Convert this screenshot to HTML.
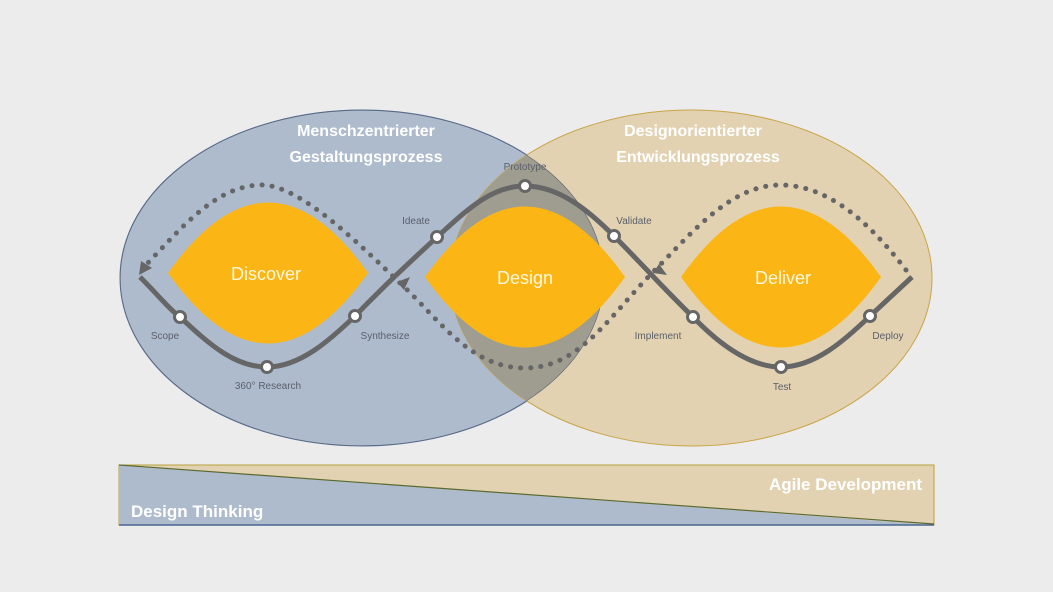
<!DOCTYPE html>
<html><head><meta charset="utf-8"><style>
html,body{margin:0;padding:0;background:#ececec;}
svg{display:block;}
</style></head><body>
<svg width="1053" height="592" viewBox="0 0 1053 592" xmlns="http://www.w3.org/2000/svg" font-family="Liberation Sans, sans-serif">
<defs>
<clipPath id="cl"><ellipse cx="362" cy="278" rx="242" ry="168"/></clipPath>
</defs>
<rect width="1053" height="592" fill="#ececec"/>
<ellipse cx="362" cy="278" rx="242" ry="168" fill="#aebbcd" stroke="#55719a" stroke-width="1"/>
<ellipse cx="691" cy="278" rx="241" ry="168" fill="#e2d2b2" stroke="#c9a448" stroke-width="1"/>
<ellipse cx="691" cy="278" rx="241" ry="168" fill="#9f9d8f" clip-path="url(#cl)"/>
<ellipse cx="362" cy="278" rx="242" ry="168" fill="none" stroke="#5e6678" stroke-width="1.2" clip-path="url(#cl)"/>
<!-- lenses -->
<path d="M168 273 Q268 132 368 273 Q268 414 168 273Z" fill="#fbb616"/>
<path d="M425 277 Q525 136 625 277 Q525 418 425 277Z" fill="#fbb616"/>
<path d="M681 277 Q781 136 881 277 Q781 418 681 277Z" fill="#fbb616"/>
<!-- dotted path -->
<path d="M906 270 C860 210 820 185 780 185 C730 185 690 235 655 270 C610 315 580 368 525 368 C470 368 440 320 400 283 C360 245 300 185 262 185 C215 185 180 230 143 268" fill="none" stroke="#666" stroke-width="5" stroke-dasharray="0.1 10" stroke-linecap="round"/>
<polygon points="139,275 141,261 152,268" fill="#666"/>
<polygon points="397,282 410,277 404,290" fill="#666"/>
<polygon points="653,273 659,264 667,275" fill="#666"/>
<!-- solid path -->
<path d="M140 277 C160 297 170 310 180 317 C210 345 235 367 267 367 C300 367 330 340 355 316 C385 285 410 262 437 237 C465 212 490 186 525 186 C560 186 590 212 614 236 C640 262 665 290 693 317 C720 345 750 367 781 367 C815 367 845 340 870 316 L912 277" fill="none" stroke="#666" stroke-width="5"/>
<g fill="#fff" stroke="#666" stroke-width="3">
<circle cx="180" cy="317" r="5.5"/><circle cx="267" cy="367" r="5.5"/><circle cx="355" cy="316" r="5.5"/>
<circle cx="437" cy="237" r="5.5"/><circle cx="525" cy="186" r="5.5"/><circle cx="614" cy="236" r="5.5"/>
<circle cx="693" cy="317" r="5.5"/><circle cx="781" cy="367" r="5.5"/><circle cx="870" cy="316" r="5.5"/>
</g>
<g font-size="10" fill="#5a5f6a" text-anchor="middle">
<text x="165" y="339">Scope</text>
<text x="268" y="389">360° Research</text>
<text x="385" y="339">Synthesize</text>
<text x="416" y="224">Ideate</text>
<text x="525" y="170">Prototype</text>
<text x="634" y="224">Validate</text>
<text x="658" y="339">Implement</text>
<text x="782" y="390">Test</text>
<text x="888" y="339">Deploy</text>
</g>
<g font-size="18" fill="#fff8dd" text-anchor="middle">
<text x="266" y="280">Discover</text>
<text x="525" y="284">Design</text>
<text x="783" y="284">Deliver</text>
</g>
<g font-size="16" font-weight="bold" fill="#fff" text-anchor="middle">
<text x="366" y="136">Menschzentrierter</text>
<text x="366" y="162">Gestaltungsprozess</text>
<text x="693" y="136">Designorientierter</text>
<text x="698" y="162">Entwicklungsprozess</text>
</g>
<!-- bar -->
<rect x="119" y="465" width="815" height="60" fill="#e2d2b2" stroke="#b8a23a" stroke-width="1"/>
<polygon points="119,465 934,525 119,525" fill="#aebbcd"/>
<line x1="119" y1="465" x2="934" y2="524" stroke="#5a6a30" stroke-width="1.2"/>
<line x1="119" y1="525" x2="934" y2="525" stroke="#4a6490" stroke-width="1.5"/>
<text x="922" y="490" font-size="17" font-weight="bold" fill="#fff" text-anchor="end">Agile Development</text>
<text x="131" y="517" font-size="17" font-weight="bold" fill="#fff">Design Thinking</text>
</svg>
</body></html>
